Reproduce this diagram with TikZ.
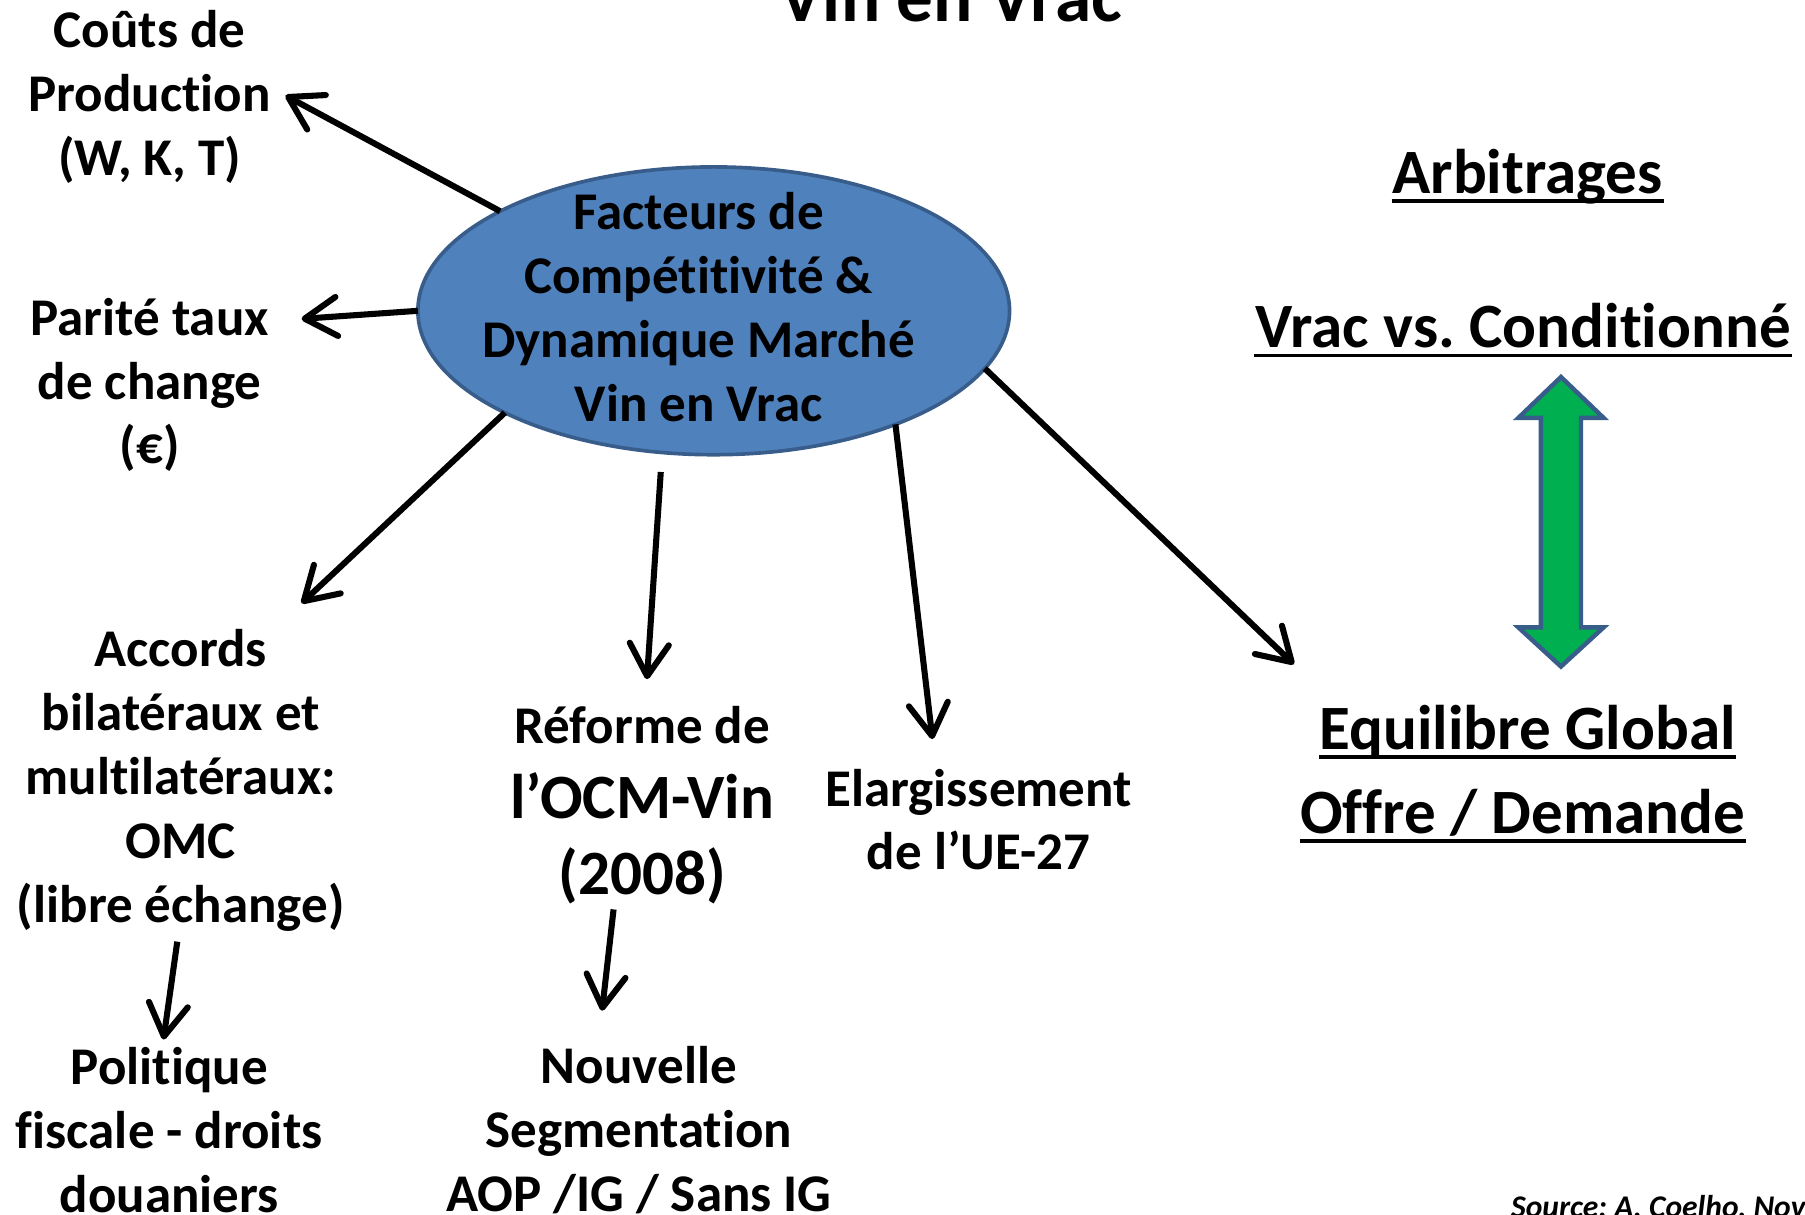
\documentclass[tikz,border=0pt]{standalone}
\usepackage{fontspec}
\setmainfont{Carlito}[Ligatures=NoCommon]
\usepackage{tikz}
\usetikzlibrary{calc}
\usetikzlibrary{arrows.meta}
\usetikzlibrary {shapes.geometric}

\definecolor{ovalblue}{HTML}{4F81BD}
\definecolor{ovalline}{HTML}{385D8A}
\definecolor{arrowgreen}{HTML}{00B050}

\tikzset{
  txt/.style={font=\fontsize{13.1}{15.8}\selectfont\bfseries, align=center, inner sep=0pt},
  big/.style={font=\fontsize{15.6}{18.8}\selectfont\bfseries, align=center, inner sep=0pt},
  arr/.style={line width=1.5pt, -{Straight Barb[length=2.8mm,width=3.4mm,round]}},
  uline/.style={line width=0.8pt}
}

\begin{document}
\frenchspacing
\begin{tikzpicture}
    \useasboundingbox (0,0) rectangle (15.68,10.55);
    \def\ul{0.065}  % depth of the underlines

    % Title, cut by the top edge
    \node[font=\fontsize{18.1}{21}\selectfont\bfseries, anchor=base, inner sep=0pt] (title) at (8.26,10.36) {Vin en Vrac};

    % Central oval
    \node[ellipse, draw=ovalline, line width=0.9pt, fill=ovalblue, minimum width=5.14cm, minimum height=2.5cm, inner sep=0pt, outer sep=0pt] (core) at (6.20,7.85) {};
    \node[txt] (coreText) at (6.07,7.88) {Facteurs de\\Compétitivité \&\\Dynamique Marché\\Vin en Vrac};

    % Factors around the oval
    \node[txt] (couts) at (1.30,9.71) {Coûts de\\Production\\(W, K, T)};
    \node[txt] (parite) at (1.30,7.21) {Parité taux\\de change\\(€)};
    \node[txt] (accords) at (1.57,3.77) {Accords\\bilatéraux et\\multilatéraux:\\OMC\\(libre échange)};
    \node[txt] (politique) at (1.47,0.73) {Politique\\fiscale - droits\\douaniers};
    \node[txt] (reforme) at (5.58,4.25) {Réforme de};
    \node[big] (ocm) at (5.58,3.27) {l’OCM-Vin\\(2008)};
    \node[txt] (nouvelle) at (5.55,0.73) {Nouvelle\\Segmentation\\AOP /IG / Sans IG};
    \node[txt] (elarg) at (8.50,3.43) {Elargissement\\de l’UE-27};

    % Right hand side
    \node[big, anchor=base] (arb) at (13.27,8.87) {Arbitrages};
    \node[big, anchor=base] (vrac) at (13.23,7.53) {Vrac vs. Conditionné};
    \node[big, anchor=base] (equil) at (13.27,4.04) {Equilibre Global};
    \node[big, anchor=base] (offre) at (13.23,3.31) {Offre / Demande};
    \foreach \n in {arb,vrac,equil,offre}
        \draw[uline] ([yshift=-\ul cm]\n.base west) -- ([yshift=-\ul cm]\n.base east);

    \node[font=\fontsize{7.8}{9}\selectfont\bfseries\itshape, anchor=base west, inner sep=0pt] (source) at (13.12,-0.03) {Source: A. Coelho, Nov};

    % Arrow tips
    \coordinate (tipCouts) at (2.48,9.72);
    \coordinate (tipParite) at (2.62,7.78);
    \coordinate (tipAccords) at (2.62,5.31);
    \coordinate (tipReforme) at (5.62,4.65);
    \coordinate (tipElarg) at (8.10,4.13);
    \coordinate (tipEquil) at (11.24,4.78);
    \coordinate (outAccords) at (1.54,2.37);
    \coordinate (tipPolitique) at (1.42,1.52);
    \coordinate (outOcm) at (5.33,2.65);
    \coordinate (tipNouvelle) at (5.23,1.77);

    % Arrows out of the oval
    \draw[arr] (core.155.9) -- (tipCouts);
    \draw[arr] (core.180) -- (tipParite);
    \draw[arr] (core.206.6) -- (tipAccords);
    \draw[arr] ([xshift=-4.6mm,yshift=-1.5mm]core.south) -- (tipReforme);
    \draw[arr] (core.328.8) -- (tipElarg);
    \draw[arr] (core.348.8) -- (tipEquil);
    \draw[arr] (outAccords) -- (tipPolitique);
    \draw[arr] (outOcm) -- (tipNouvelle);

    % Double arrow between the two levels
    \draw[draw=ovalline, line width=1.1pt, fill=arrowgreen, line join=miter]
        (13.56,7.275) -- (13.93,6.92) -- (13.734,6.92) -- (13.734,5.10) -- (13.93,5.10)
        -- (13.56,4.76) -- (13.19,5.10) -- (13.386,5.10) -- (13.386,6.92) -- (13.19,6.92) -- cycle;

\end{tikzpicture}
\end{document}
